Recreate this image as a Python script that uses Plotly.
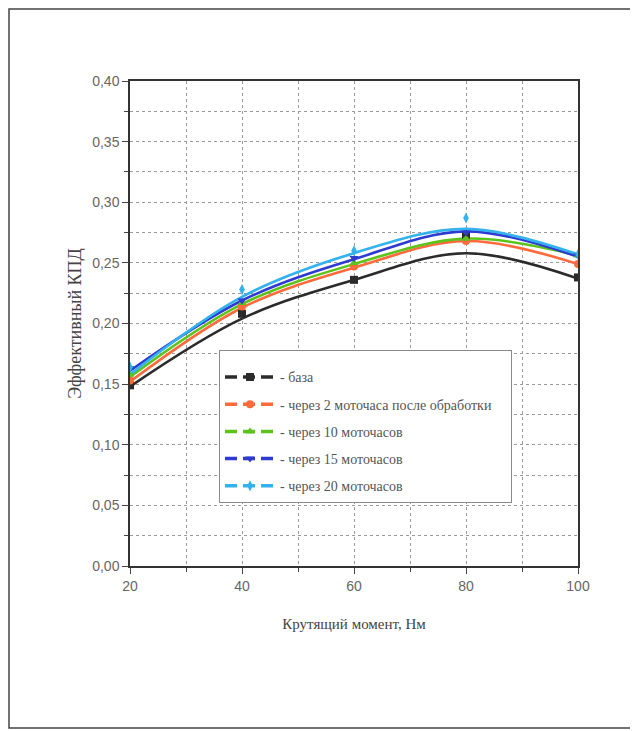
import plotly.graph_objects as go

torque = [20, 40, 60, 80, 100]

names = ["- база", "- через 2 моточаса после обработки\u00a0\u00a0\u00a0\u00a0", "- через 10 моточасов",
         "- через 15 моточасов", "- через 20 моточасов"]
colors = ["#2b2b2b", "#ff6a3d", "#5cc21c", "#2f3bd0", "#33b2ee"]
symbols = ["square", "circle", "triangle-up", "triangle-down", "diamond-tall"]

# measured points
base_pts = [0.149, 0.208, 0.236, 0.272, 0.238]
h2_pts = [0.153, 0.214, 0.247, 0.268, 0.249]
h10_pts = [0.158, 0.217, 0.250, 0.270, 0.256]
h15_pts = [0.163, 0.219, 0.254, 0.275, 0.256]
h20_pts = [0.164, 0.228, 0.260, 0.287, 0.257]

# trend curves
base_fit = [0.148, 0.204, 0.236, 0.258, 0.237]
h2_fit = [0.152, 0.213, 0.246, 0.268, 0.249]
h10_fit = [0.156, 0.216, 0.249, 0.270, 0.256]
h15_fit = [0.161, 0.219, 0.253, 0.276, 0.255]
h20_fit = [0.158, 0.222, 0.258, 0.278, 0.257]

pts = [base_pts, h2_pts, h10_pts, h15_pts, h20_pts]
fits = [base_fit, h2_fit, h10_fit, h15_fit, h20_fit]

yticks = [0.0, 0.05, 0.10, 0.15, 0.20, 0.25, 0.30, 0.35, 0.40]
xticks = [20, 40, 60, 80, 100]

fig = go.Figure()
for i in range(5):
    fig.add_trace(go.Scatter(x=torque, y=fits[i], mode="lines",
                             line=dict(color=colors[i], width=2.6, shape="spline", smoothing=1.0),
                             showlegend=False, hoverinfo="skip"))
for i in range(5):
    fig.add_trace(go.Scatter(x=torque, y=pts[i], mode="markers",
                             marker=dict(color=colors[i], symbol=symbols[i], size=8),
                             showlegend=False))
for i in range(5):
    fig.add_trace(go.Scatter(x=[None], y=[None], mode="lines+markers", name=names[i],
                             legendgroup=f"g{i}",
                             line=dict(color=colors[i], width=3.5, dash="12px,6px"),
                             marker=dict(color=colors[i], symbol=symbols[i], size=8)))

grid = dict(showgrid=True, gridcolor="#9a9a9a", griddash="dot", gridwidth=1)

# page body has an 8px margin; figure is placed at (8, 8)
W, H = 630, 723
L, T, PW, PH = 122, 73, 448, 485

def px_x(p):
    return (p - L) / PW

def px_y(p):
    return (T + PH - p) / PH

fig.update_layout(
    width=W, height=H,
    margin=dict(l=L, r=W - L - PW, t=T, b=H - T - PH),
    paper_bgcolor="white", plot_bgcolor="white",
    separators=", ",
    showlegend=True,
    legend=dict(x=px_x(211), y=px_y(342), xanchor="left", yanchor="top",
                bgcolor="white", bordercolor="#8a8a8a", borderwidth=1,
                font=dict(family="Liberation Serif", size=14, color="#555"),
                title=dict(text=" ", font=dict(size=8)),
                tracegroupgap=6, itemwidth=50),
    xaxis=dict(range=[20, 100], tickvals=xticks, ticks="outside", ticklen=6,
               tickfont=dict(family="Liberation Sans Narrow, Liberation Sans", size=14, color="#666"),
               showline=True, linecolor="#333", linewidth=1.5, mirror=True, zeroline=False,
               minor=dict(dtick=10, ticks="outside", ticklen=4, showgrid=True, gridcolor="#9a9a9a", griddash="dot"),
               title=dict(text="Крутящий момент, Нм", standoff=26,
                          font=dict(family="Liberation Serif", size=15, color="#444")),
               **grid),
    yaxis=dict(range=[0, 0.40], tickvals=yticks, tickformat=".2f", ticks="outside", ticklen=6,
               tickfont=dict(family="Liberation Sans Narrow, Liberation Sans", size=14, color="#666"),
               showline=True, linecolor="#333", linewidth=1.5, mirror=True, zeroline=False,
               minor=dict(dtick=0.025, ticks="outside", ticklen=4, showgrid=True, gridcolor="#9a9a9a", griddash="dot"),
               title=dict(text="Эффективный КПД", standoff=6,
                          font=dict(family="Liberation Serif", size=18, color="#444")),
               **grid),
    shapes=[dict(type="rect", xref="paper", yref="paper",
                 x0=px_x(1), x1=px_x(626), y0=px_y(720), y1=px_y(1),
                 line=dict(color="#444", width=1.5), fillcolor="rgba(0,0,0,0)")],
)

fig.write_html("out.html")
